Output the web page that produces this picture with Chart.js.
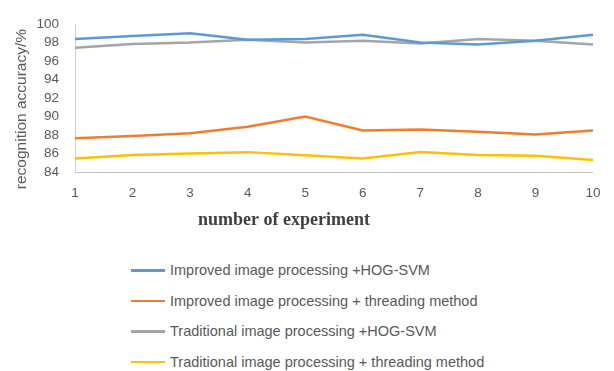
<!DOCTYPE html>
<html>
<head>
<meta charset="utf-8">
<script src="https://cdn.jsdelivr.net/npm/chart.js@4/dist/chart.umd.min.js"></script>
<style>
  html, body { margin: 0; padding: 0; background: #fff; }
  #wrap { position: relative; width: 614px; height: 371px; overflow: hidden; }
  #chartBox { position: absolute; left: 0; top: 0; width: 614px; height: 240px; }
  #legend { position: absolute; left: 131px; top: 255px; margin: 0; padding: 0; list-style: none;
            font-family: "Liberation Sans", sans-serif; font-size: 14.5px; color: #595959; }
  #legend li { height: 30.5px; display: flex; align-items: center; white-space: nowrap; }
  #legend .sw { display: inline-block; width: 34px; height: 2.5px; margin-right: 5px; }
</style>
</head>
<body>
<div id="wrap">
  <div id="chartBox"><canvas id="chart"></canvas></div>
  <ul id="legend"></ul>
</div>
<script>
// Experiment numbers on the x axis
const experiments = ['1', '2', '3', '4', '5', '6', '7', '8', '9', '10'];

// Series names
const seriesNames = [
  'Improved image processing +HOG-SVM',
  'Improved image processing + threading method',
  'Traditional image processing +HOG-SVM',
  'Traditional image processing + threading method'
];

// Recognition accuracy (%) per experiment
const improvedHog      = [98.4, 98.7, 99.0, 98.3, 98.4, 98.85, 98.0, 97.8, 98.2, 98.85];
const improvedThread   = [87.65, 87.9, 88.2, 88.9, 90.0, 88.5, 88.6, 88.35, 88.05, 88.5];
const traditionalHog   = [97.45, 97.85, 98.0, 98.3, 98.0, 98.2, 97.9, 98.4, 98.2, 97.8];
const traditionalThread = [85.45, 85.85, 86.0, 86.15, 85.8, 85.45, 86.15, 85.85, 85.75, 85.3];

const seriesColors = ['#5B9BD5', '#ED7D31', '#A5A5A5', '#FFC000'];
const seriesValues = [improvedHog, improvedThread, traditionalHog, traditionalThread];

const xTitle = 'number of experiment';
const yTitle = 'recognition accuracy/%';

// Axis captions placed relative to the plot area
const axisCaptions = {
  id: 'axisCaptions',
  afterDraw(chart) {
    const { ctx, chartArea: a } = chart;
    ctx.save();
    ctx.textAlign = 'center';
    ctx.textBaseline = 'middle';
    ctx.fillStyle = '#404040';
    ctx.font = 'bold 18px "Liberation Serif", serif';
    ctx.fillText(xTitle, (a.left + a.right) / 2 - 50, a.bottom + 48);
    ctx.fillStyle = '#595959';
    ctx.translate(22, (a.top + a.bottom) / 2 + 11);
    ctx.rotate(-Math.PI / 2);
    ctx.font = '15.5px "Liberation Sans", sans-serif';
    ctx.fillText(yTitle, 0, 0);
    ctx.restore();
  }
};

const chart = new Chart(document.getElementById('chart'), {
  type: 'line',
  data: {
    labels: experiments,
    datasets: seriesNames.map((name, i) => ({
      label: name,
      data: seriesValues[i],
      borderColor: seriesColors[i],
      backgroundColor: seriesColors[i],
      borderWidth: 2.5,
      pointRadius: 0,
      tension: 0,
      fill: false
    }))
  },
  options: {
    responsive: true,
    maintainAspectRatio: false,
    animation: false,
    layout: { padding: { top: 15, right: 8, left: 0, bottom: 0 } },
    plugins: {
      legend: { display: false },
      tooltip: { enabled: false }
    },
    scales: {
      x: {
        offset: false,
        grid: { display: false, drawTicks: false },
        border: { display: true, color: '#BFBFBF', width: 1 },
        ticks: {
          padding: 13.5,
          color: '#595959',
          font: { family: '"Liberation Sans", sans-serif', size: 13.5 },
          maxRotation: 0,
          autoSkip: false
        },
        afterFit: (s) => { s.height = 68; }
      },
      y: {
        min: 84,
        max: 100,
        grid: { display: false, drawTicks: false },
        border: { display: true, color: '#D0D0D0', width: 1 },
        ticks: {
          stepSize: 2,
          autoSkip: false,
          padding: 16,
          color: '#595959',
          font: { family: '"Liberation Sans", sans-serif', size: 13.5 }
        },
        afterFit: (s) => { s.width = 75; }
      }
    }
  },
  plugins: [axisCaptions]
});

// Legend list built from the chart's datasets
const legendEl = document.getElementById('legend');
chart.data.datasets.forEach((ds) => {
  const li = document.createElement('li');
  const sw = document.createElement('span');
  sw.className = 'sw';
  sw.style.background = ds.borderColor;
  li.appendChild(sw);
  li.appendChild(document.createTextNode(ds.label));
  legendEl.appendChild(li);
});
</script>
</body>
</html>
